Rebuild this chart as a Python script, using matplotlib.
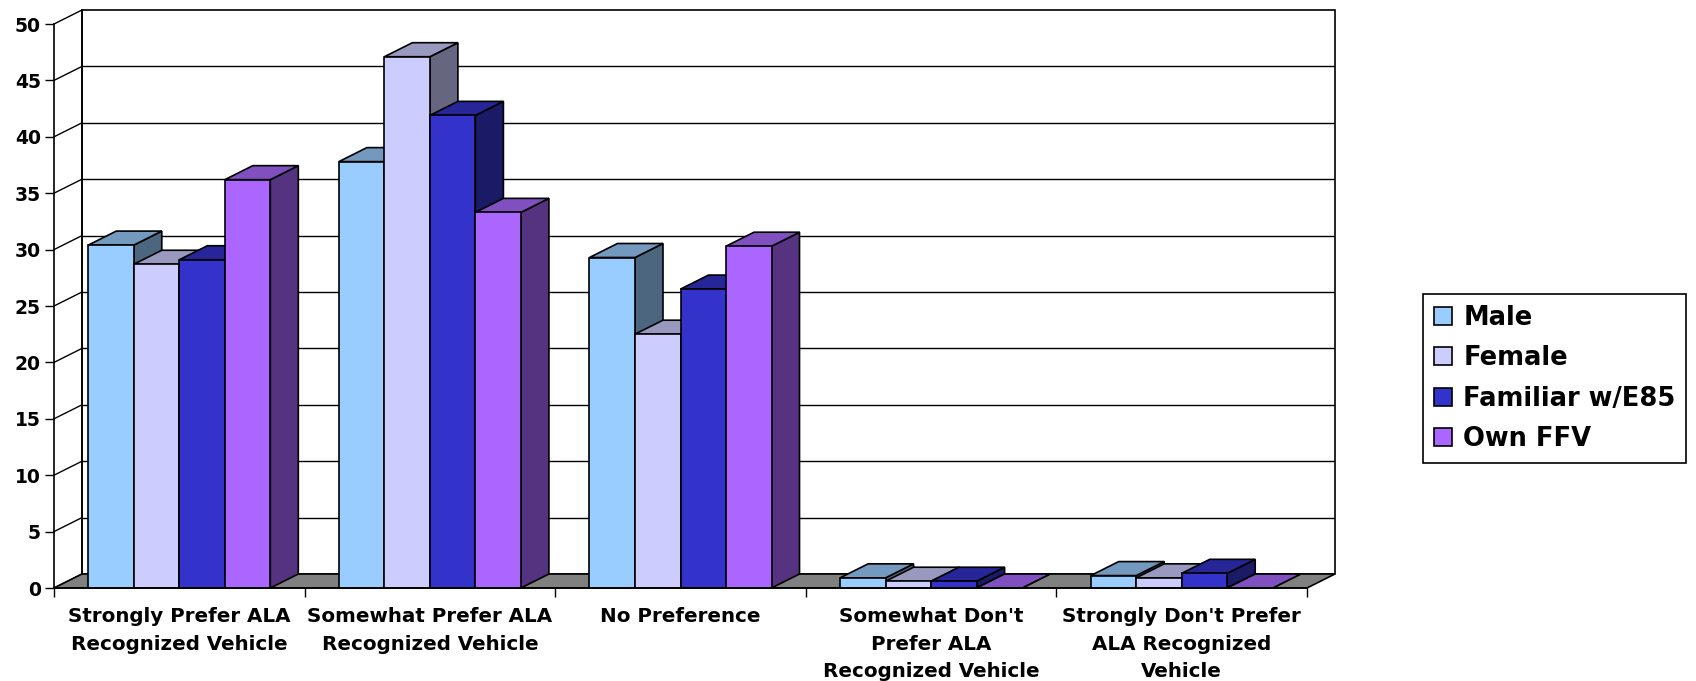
import numpy as np
import matplotlib
matplotlib.use('Agg')
import matplotlib.pyplot as plt
from matplotlib.patches import Polygon, Rectangle, Patch

categories = ["Strongly Prefer ALA\nRecognized Vehicle",
              "Somewhat Prefer ALA\nRecognized Vehicle",
              "No Preference",
              "Somewhat Don't\nPrefer ALA\nRecognized Vehicle",
              "Strongly Don't Prefer\nALA Recognized\nVehicle"]
series = ['Male', 'Female', 'Familiar w/E85', 'Own FFV']
male = [30.4, 37.8, 29.3, 0.9, 1.1]
female = [28.7, 47.1, 22.5, 0.6, 0.9]
familiar = [29.1, 41.9, 26.5, 0.6, 1.3]
own_ffv = [36.2, 33.3, 30.3, 0.0, 0.0]
values = [male, female, familiar, own_ffv]

# front / top / side shades (excel style 3d)
fronts = ['#99CCFF', '#CCCCFF', '#3333CC', '#AA66FF']
tops = ['#7399BF', '#9999BF', '#262699', '#8050C0']
sides = ['#4D6680', '#666680', '#1A1A66', '#563380']

W, H = 1696, 681
DX = 0.1117   # depth offset in category units
DY = 1.242    # depth offset in value units
bw = 0.1816   # bar width
ymax = 50
nc = len(categories)

fig = plt.figure(figsize=(W/100, H/100), dpi=100)
ax = fig.add_axes([54/W, (H-588)/H, (1335-54)/W, (588-10)/H])
ax.set_xlim(0, nc+DX)
ax.set_ylim(0, ymax+DY)
ax.patch.set_alpha(0)

lw = 1.2
# back wall
ax.add_patch(Rectangle((DX, DY), nc, ymax, facecolor='white', edgecolor='black',
                       lw=lw, zorder=0, clip_on=False))
ticks = np.arange(0, ymax+1, 5)
ax.hlines(ticks[1:-1]+DY, DX, nc+DX, color='black', lw=1.0, zorder=0.5)
# left wall lines
for v in ticks:
    ax.plot([0, DX], [v, v+DY], color='black', lw=1.0, zorder=0.5, clip_on=False)
ax.plot([DX, DX], [DY, ymax+DY], color='black', lw=lw, zorder=0.6, clip_on=False)
# floor
ax.add_patch(Polygon([(0, 0), (nc, 0), (nc+DX, DY), (DX, DY)], closed=True,
                     facecolor='#808080', edgecolor='black', lw=lw, zorder=1, clip_on=False))

x = np.arange(nc)
for j, vals in enumerate(values):
    x0 = x + 0.5 - 2*bw + j*bw
    z = 2 + 3*j
    for xi, v in zip(x0, vals):
        ax.add_patch(Polygon([(xi+bw, 0), (xi+bw+DX, DY), (xi+bw+DX, v+DY), (xi+bw, v)],
                             closed=True, facecolor=sides[j], edgecolor='black', lw=lw,
                             zorder=z, clip_on=False))
        ax.add_patch(Polygon([(xi, v), (xi+bw, v), (xi+bw+DX, v+DY), (xi+DX, v+DY)],
                             closed=True, facecolor=tops[j], edgecolor='black', lw=lw,
                             zorder=z+1, clip_on=False))
    ax.bar(x0, vals, width=bw, align='edge', color=fronts[j], edgecolor='black',
           lw=lw, zorder=z+2, clip_on=False)

for s in ['top', 'right']:
    ax.spines[s].set_visible(False)
ax.spines['left'].set_bounds(0, ymax)
ax.spines['bottom'].set_bounds(0, nc)
for s in ['left', 'bottom']:
    ax.spines[s].set_linewidth(lw)
    ax.spines[s].set_zorder(20)

ax.set_yticks(ticks)
ax.set_yticklabels([str(t) for t in ticks], fontsize=13.5, fontweight='bold')
ax.tick_params(axis='y', length=6.5, width=1.0, pad=3)
ax.set_xticks(np.arange(nc+1))
ax.set_xticklabels([])
ax.tick_params(axis='x', which='major', length=6.5, width=1.0)
ax.set_xticks(x+0.5, minor=True)
ax.set_xticklabels(categories, minor=True, fontsize=14.3, fontweight='bold',
                   linespacing=1.55)
ax.tick_params(axis='x', which='minor', length=0, pad=14)

handles = [Patch(facecolor=c, edgecolor='black', lw=1.2) for c in fronts]
leg = fig.legend(handles, series, loc='upper left', bbox_to_anchor=(1423/W, 1-294/H),
                 borderaxespad=0, fancybox=False, framealpha=1, edgecolor='black',
                 prop={'size': 18.5, 'weight': 'bold'}, handlelength=0.7,
                 handleheight=0.7, handletextpad=0.45, labelspacing=0.56,
                 borderpad=0.42)
leg.get_frame().set_linewidth(1.2)

fig.savefig('out.png', dpi=100)
